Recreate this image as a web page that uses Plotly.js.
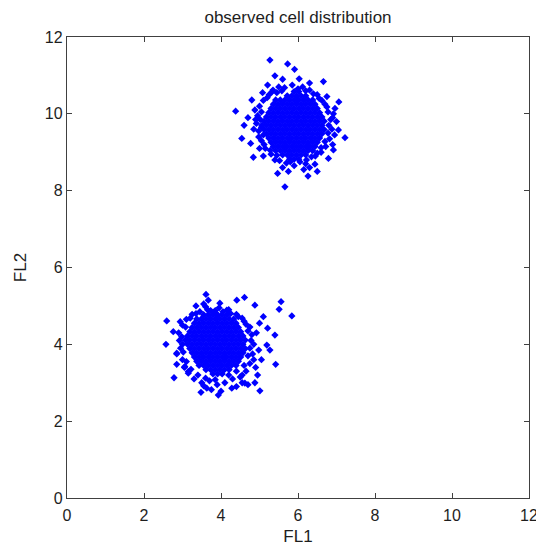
<!DOCTYPE html>
<html>
<head>
<meta charset="utf-8">
<script src="https://cdn.plot.ly/plotly-3.0.1.min.js"></script>
<style>html,body{margin:0;padding:0;background:#fff;}#chart{width:536px;height:546px;}</style>
</head>
<body>
<div id="chart"></div>
<script>
// ---- Upper cluster: dense core, read row by row as [FL2, [FL1 values]] ----
const c1Rows = [
  [10.58, [5.90,6.02]],
  [10.47, [5.72,5.84,5.96,6.08,6.20]],
  [10.36, [5.42,5.54,5.66,5.78,5.90,6.02,6.14,6.26,6.38]],
  [10.25, [5.36,5.48,5.60,5.72,5.84,5.96,6.08,6.20,6.32,6.44]],
  [10.14, [5.30,5.42,5.54,5.66,5.78,5.90,6.02,6.14,6.26,6.38,6.50]],
  [10.03, [5.24,5.36,5.48,5.60,5.72,5.84,5.96,6.08,6.20,6.32,6.44,6.56]],
  [9.92,  [5.18,5.30,5.42,5.54,5.66,5.78,5.90,6.02,6.14,6.26,6.38,6.50,6.62]],
  [9.81,  [5.12,5.24,5.36,5.48,5.60,5.72,5.84,5.96,6.08,6.20,6.32,6.44,6.56,6.68]],
  [9.70,  [5.06,5.18,5.30,5.42,5.54,5.66,5.78,5.90,6.02,6.14,6.26,6.38,6.50,6.62]],
  [9.59,  [5.12,5.24,5.36,5.48,5.60,5.72,5.84,5.96,6.08,6.20,6.32,6.44,6.56,6.68]],
  [9.48,  [5.18,5.30,5.42,5.54,5.66,5.78,5.90,6.02,6.14,6.26,6.38,6.50,6.62]],
  [9.37,  [5.24,5.36,5.48,5.60,5.72,5.84,5.96,6.08,6.20,6.32,6.44,6.56]],
  [9.26,  [5.30,5.42,5.54,5.66,5.78,5.90,6.02,6.14,6.26,6.38,6.50]],
  [9.15,  [5.36,5.48,5.60,5.72,5.84,5.96,6.08,6.20,6.32,6.44]],
  [9.04,  [5.42,5.54,5.66,5.78,5.90,6.02,6.14,6.26,6.38]],
  [8.93,  [5.60,5.72,5.84,5.96,6.08,6.20]],
  [8.82,  [5.78,5.90,6.02]]
];
// upper cluster fringe and outliers [FL1, FL2]
const c1Edge = [
  [4.95,9.95],[4.98,9.55],[4.92,9.75],[5.0,10.2],[5.05,9.3],[5.1,10.35],[5.15,9.1],[5.25,10.5],
  [5.3,8.95],[5.35,10.62],[5.4,8.8],[5.5,10.7],[5.52,8.78],[5.65,10.68],[5.7,8.72],[5.85,10.75],
  [5.9,8.65],[6.0,10.65],[6.05,8.75],[6.2,10.6],[6.22,8.8],[6.4,10.52],[6.45,8.9],[6.55,10.4],
  [6.6,9.0],[6.7,10.25],[6.72,9.15],[6.78,10.05],[6.82,9.35],[6.85,9.85],[6.88,9.6],[4.88,10.1],
  [5.0,9.1],[6.75,10.45],[6.9,9.9],[5.08,10.55],[6.3,8.6],[5.6,8.6],[4.85,9.6],[6.95,9.45],
  [5.02,9.85],[5.05,10.05],[4.98,9.4],[5.12,9.2],[5.2,10.42],[5.33,10.58],[5.45,10.55],[5.58,10.6],
  [6.12,10.7],[6.3,10.62],[6.5,10.5],[6.62,10.35],[6.75,10.18],[6.8,9.7],[6.78,9.5],[6.7,9.28],
  [6.6,9.12],[6.5,8.98],[6.35,8.88],[6.2,8.7],[5.8,8.75],[5.45,8.92],[5.28,9.05],[5.1,9.45],
  [5.05,9.65],[6.92,10.0],[4.9,9.85],[6.15,8.55],[5.75,8.5],[6.9,9.2]
];
const c1Out = [
  [5.27,11.40],[5.73,11.30],[5.91,11.16],[5.40,10.99],[6.03,10.91],[6.66,10.84],[5.21,10.75],
  [4.38,10.07],[4.80,10.36],[7.06,10.31],[7.22,9.38],[4.54,9.36],[4.84,8.87],[5.66,8.10],
  [6.26,8.38],[5.47,8.45],[6.79,8.84],[6.44,8.69],[6.92,9.06],[7.05,9.58],[6.96,10.14],
  [4.77,9.23],[4.6,9.7],[4.7,9.9],[5.6,10.9],[6.3,10.8],[6.5,8.5],[5.1,8.9],[7.0,9.8]
];

// ---- Lower cluster: dense core rows [FL2, [FL1 values]] ----
const c2Rows = [
  [4.88, [3.73,3.85]],
  [4.77, [3.55,3.67,3.79,3.91,4.03,4.15]],
  [4.66, [3.37,3.49,3.61,3.73,3.85,3.97,4.09,4.21,4.33]],
  [4.55, [3.31,3.43,3.55,3.67,3.79,3.91,4.03,4.15,4.27,4.39]],
  [4.44, [3.25,3.37,3.49,3.61,3.73,3.85,3.97,4.09,4.21,4.33,4.45]],
  [4.33, [3.19,3.31,3.43,3.55,3.67,3.79,3.91,4.03,4.15,4.27,4.39,4.51]],
  [4.22, [3.13,3.25,3.37,3.49,3.61,3.73,3.85,3.97,4.09,4.21,4.33,4.45,4.57]],
  [4.11, [3.07,3.19,3.31,3.43,3.55,3.67,3.79,3.91,4.03,4.15,4.27,4.39,4.51,4.63]],
  [4.00, [3.13,3.25,3.37,3.49,3.61,3.73,3.85,3.97,4.09,4.21,4.33,4.45,4.57]],
  [3.89, [3.19,3.31,3.43,3.55,3.67,3.79,3.91,4.03,4.15,4.27,4.39,4.51,4.63]],
  [3.78, [3.25,3.37,3.49,3.61,3.73,3.85,3.97,4.09,4.21,4.33,4.45,4.57]],
  [3.67, [3.31,3.43,3.55,3.67,3.79,3.91,4.03,4.15,4.27,4.39,4.51]],
  [3.56, [3.37,3.49,3.61,3.73,3.85,3.97,4.09,4.21,4.33,4.45]],
  [3.45, [3.43,3.55,3.67,3.79,3.91,4.03,4.15,4.27,4.39]],
  [3.34, [3.61,3.73,3.85,3.97,4.09,4.21]],
  [3.23, [3.79,3.91,4.03]]
];
const c2Edge = [
  [2.9,4.3],[2.95,3.9],[2.92,4.1],[3.0,3.6],[3.0,4.5],[3.05,3.4],[3.1,4.65],[3.15,3.25],
  [3.25,4.78],[3.3,3.1],[3.45,4.85],[3.5,3.0],[3.65,4.9],[3.7,3.05],[3.85,4.82],[3.9,2.95],
  [4.05,4.85],[4.1,3.0],[4.25,4.8],[4.3,3.1],[4.45,4.72],[4.5,3.15],[4.6,4.6],[4.65,3.3],
  [4.75,4.45],[4.75,3.5],[4.8,4.25],[4.82,3.75],[4.85,4.0],[4.9,3.4],[4.95,3.2],[5.0,4.55],
  [5.05,3.6],[4.7,2.95],[4.55,3.0],[4.4,2.9],[3.55,2.92],[3.75,2.82],[4.0,2.78],[2.85,3.75],
  [3.35,5.0],[3.55,5.05],
  [2.98,4.2],[3.02,3.8],[3.08,4.45],[3.1,3.55],[3.2,4.68],[3.22,3.35],[3.35,4.8],[3.4,3.2],
  [3.6,4.98],[3.6,3.12],[3.95,4.95],[3.85,3.08],[4.2,4.9],[4.2,3.2],[4.4,4.78],[4.4,3.3],
  [4.55,4.68],[4.6,3.45],[4.7,4.35],[4.7,3.7],[4.78,4.1],[4.75,3.9],[4.65,4.52],[4.55,3.2],
  [4.85,3.6],[3.0,4.0],[4.92,4.3],[4.98,3.85]
];
const c2Out = [
  [2.59,4.61],[2.57,4.00],[3.61,5.30],[3.67,5.15],[4.41,5.15],[4.61,5.22],[5.56,5.11],
  [5.51,4.91],[5.84,4.74],[5.42,3.48],[5.01,2.79],[3.48,2.75],[3.93,2.68],[2.78,3.13],
  [2.85,3.48],[2.85,3.77],[2.76,4.33],[2.94,4.59],[5.40,4.24],[5.21,4.42],[4.88,3.00],
  [4.62,2.99],[4.28,2.86],[3.63,2.86],[5.10,4.72],[4.88,5.02],[3.97,5.07],[4.15,4.89],
  [5.19,3.98],[5.27,3.85],[3.15,3.29],[3.06,3.42]
];

const titleText = 'observed cell distribution';
const xLabel = 'FL1';
const yLabel = 'FL2';
const tickVals = [0,2,4,6,8,10,12];

const rowsX = rows => rows.flatMap(r => r[1]);
const rowsY = rows => rows.flatMap(r => r[1].map(() => r[0]));
const xs = [].concat(rowsX(c1Rows), c1Edge.map(p=>p[0]), c1Out.map(p=>p[0]),
                     rowsX(c2Rows), c2Edge.map(p=>p[0]), c2Out.map(p=>p[0]));
const ys = [].concat(rowsY(c1Rows), c1Edge.map(p=>p[1]), c1Out.map(p=>p[1]),
                     rowsY(c2Rows), c2Edge.map(p=>p[1]), c2Out.map(p=>p[1]));

const FONT = 'Liberation Sans, Arial, sans-serif';
const TXT = '#1e1e1e';
const axisCommon = {
  range: [0,12], tickvals: tickVals, ticktext: tickVals.map(String),
  ticks: 'inside', ticklen: 5, tickwidth: 1, tickcolor: '#404040',
  showline: true, linecolor: '#404040', linewidth: 1.2, mirror: 'ticks',
  showgrid: false, zeroline: false, ticklabeloverflow: 'allow',
  tickfont: {family: FONT, size: 16, color: TXT}
};

Plotly.newPlot('chart', [{
  type: 'scatter', mode: 'markers', x: xs, y: ys,
  marker: {symbol: 'diamond', size: 5.6, color: '#0000ff', line: {width: 0}},
  hoverinfo: 'skip'
}], {
  width: 536, height: 546,
  margin: {l: 67, r: 7, t: 37, b: 48},
  paper_bgcolor: '#fff', plot_bgcolor: '#fff',
  showlegend: false,
  title: {text: titleText, font: {family: FONT, size: 17, color: TXT},
          x: 0.5, xref: 'paper', xanchor: 'center', y: 0.969, yref: 'container', yanchor: 'middle'},
  xaxis: Object.assign({}, axisCommon, {ticklabelstandoff: 3,
          title: {text: xLabel, font: {family: FONT, size: 17, color: TXT}, standoff: 8}}),
  yaxis: Object.assign({}, axisCommon, {ticklabelstandoff: 0,
          title: {text: yLabel, font: {family: FONT, size: 17, color: TXT}, standoff: 13}})
}, {displayModeBar: false, staticPlot: true});
</script>
</body>
</html>
